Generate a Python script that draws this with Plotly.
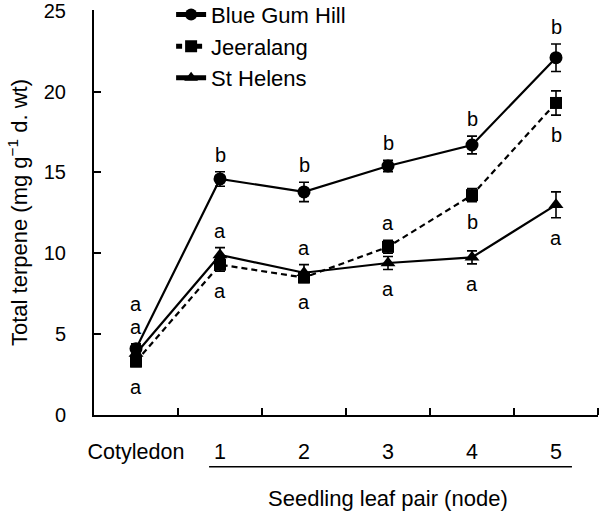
import plotly.graph_objects as go

categories = ["Cotyledon", "1", "2", "3", "4", "5"]
series_names = ["Blue Gum Hill", "Jeeralang", "St Helens"]

bgh = [4.1, 14.6, 13.8, 15.4, 16.7, 22.1]
bgh_err = [0.3, 0.45, 0.6, 0.35, 0.55, 0.85]
jee = [3.3, 9.3, 8.5, 10.4, 13.6, 19.3]
jee_err = [0.3, 0.4, 0.3, 0.4, 0.4, 0.75]
sth = [3.8, 9.9, 8.8, 9.4, 9.75, 13.0]
sth_err = [0.3, 0.45, 0.5, 0.4, 0.4, 0.8]

bgh_letters = ["a", "b", "b", "b", "b", "b"]
jee_letters = ["a", "a", "a", "a", "b", "b"]
sth_letters = ["a", "a", "a", "a", "a", "a"]

y_ticks = [0, 5, 10, 15, 20, 25]

FONT = "Liberation Sans, Arial, Helvetica, sans-serif"
FS_TEXT = 22
FS_TICK = 20
FS_CAT = 21.5
FS_LETTER = 20

xs = list(range(len(categories)))

fig = go.Figure()
styles = [
    dict(symbol="circle", dash="solid", size=13),
    dict(symbol="square", dash="6px,4px", size=12),
    dict(symbol="triangle-up", dash="solid", size=13),
]
data = [(bgh, bgh_err), (jee, jee_err), (sth, sth_err)]
for name, (vals, errs), st in zip(series_names, data, styles):
    fig.add_trace(go.Scatter(
        x=xs, y=vals, name=name, mode="lines+markers",
        line=dict(color="black", width=2.2, dash=st["dash"]),
        marker=dict(symbol=st["symbol"], size=st["size"], color="black"),
        error_y=dict(type="data", array=errs, visible=True, color="black",
                     thickness=1.6, width=5),
    ))

# significance letters: side +1 above, -1 below; stack for extra offset
placements = []
for i in xs:
    placements.append((bgh, bgh_err, bgh_letters, i, +1, 0))
jee_side = [-1, -1, -1, +1, -1, -1]
sth_side = [+1, +1, +1, -1, -1, -1]
for i in xs:
    placements.append((jee, jee_err, jee_letters, i, jee_side[i], 0))
for i in xs:
    if i == 0:
        # stacked above the Blue Gum Hill letter at the cotyledon stage
        placements.append((bgh, bgh_err, sth_letters, i, +1, 1))
    else:
        placements.append((sth, sth_err, sth_letters, i, sth_side[i], 0))

for vals, errs, letters, i, side, stack in placements:
    y = vals[i] + side * errs[i]
    shift = (17 + 23 * stack) if side > 0 else -20
    fig.add_annotation(x=i, y=y, text=letters[i], showarrow=False,
                       yshift=shift, xanchor="center", yanchor="middle",
                       font=dict(family=FONT, size=FS_LETTER, color="black"))

# x title and the bracket line under the leaf-pair labels
fig.add_annotation(x=3, y=-0.205, xref="x", yref="paper",
                   text="Seedling leaf pair (node)", showarrow=False,
                   xanchor="center", yanchor="middle",
                   font=dict(family=FONT, size=FS_TEXT, color="black"))
fig.add_shape(type="line", xref="x", yref="paper", x0=0.87, x1=5.19,
              y0=-0.128, y1=-0.128, line=dict(color="black", width=1.5))

fig.update_layout(
    width=600, height=515,
    margin=dict(l=94, r=2, t=10, b=100, autoexpand=False),
    paper_bgcolor="white", plot_bgcolor="white",
    font=dict(family=FONT, size=FS_TICK, color="black"),
    showlegend=True,
    legend=dict(x=0.153, y=1.040, xanchor="left", yanchor="top",
                bgcolor="rgba(0,0,0,0)", font=dict(family=FONT, size=FS_TEXT),
                tracegroupgap=0, itemsizing="constant"),
    xaxis=dict(range=[-0.5, 5.5], tickmode="array", tickvals=xs,
               ticktext=categories, ticks="", showgrid=False, zeroline=False,
               showline=True, linecolor="black", linewidth=2,
               ticklabelstandoff=16, automargin=False,
               tickfont=dict(family=FONT, size=FS_CAT),
               minor=dict(tickmode="array", tickvals=[0.5, 1.5, 2.5, 3.5, 4.5, 5.5],
                          ticks="inside", ticklen=7, tickwidth=1.5,
                          tickcolor="black", showgrid=False)),
    yaxis=dict(range=[0, 25.05], tickmode="array", tickvals=y_ticks,
               ticks="inside", ticklen=7, tickwidth=1.5, tickcolor="black",
               showgrid=False, zeroline=False, showline=True,
               linecolor="black", linewidth=2, ticklabelstandoff=22,
               ticklabeloverflow="allow",
               automargin=False, tickfont=dict(family=FONT, size=FS_TICK),
               title=dict(text="Total terpene (mg g<sup>\u22121</sup> d. wt)",
                          standoff=10, font=dict(family=FONT, size=FS_TEXT))),
)

fig.write_html("out.html",
               config={"displayModeBar": False},
               post_script="document.body.style.margin='0';")
